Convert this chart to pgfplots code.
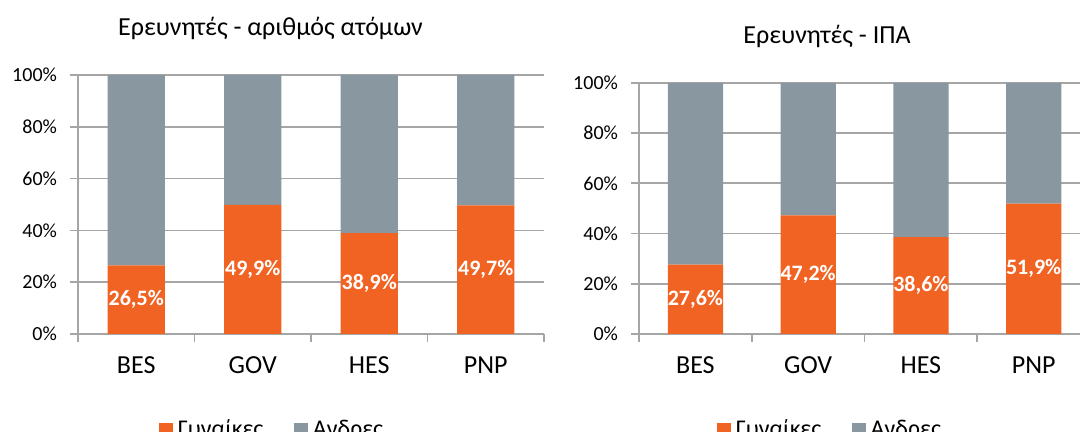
\documentclass[border=0pt]{standalone}
\usepackage{fontspec}
\setmainfont{Carlito}
\usepackage{pgfplots}
\pgfplotsset{compat=1.18}
\definecolor{fem}{RGB}{241,99,35}
\definecolor{male}{RGB}{137,151,160}
\definecolor{gridc}{RGB}{166,166,166}
\pgfplotsset{
  mystyle/.style={
    ybar stacked, scale only axis,
    bar width=0.49,
    xmin=-0.5, xmax=3.5, ymin=0, ymax=100,
    xtick={-0.5,0.5,1.5,2.5,3.5},
    x tick label as interval,
    xticklabels={BES,GOV,HES,PNP},
    xticklabel style={font=\fontsize{13}{15}\selectfont, yshift=-4pt},
    ytick={0,20,40,60,80,100},
    yticklabels={0\%,20\%,40\%,60\%,80\%,100\%},
    yticklabel style={font=\fontsize{10}{12}\selectfont, xshift=-3pt},
    ymajorgrids, grid style={gridc, line width=0.8pt},
    axis x line*=bottom, axis y line*=left,
    axis line style={gridc, line width=0.8pt},
    tick style={gridc, line width=0.8pt},
    tick align=outside, major tick length=4pt,
    legend columns=2,
    legend image code/.code={\fill[##1,draw=none] (0pt,-3.4pt) rectangle (6.8pt,3.4pt);},
    legend style={draw=none, fill=none, font=\fontsize{12}{14}\selectfont,
      /tikz/every even column/.append style={column sep=13pt},
      nodes={inner sep=2.5pt}},
  },
  femstyle/.style={fill=fem, draw=none,
    nodes near coords={\pgfmathprintnumber[fixed,fixed zerofill,precision=1,use comma,assume math mode=true]{\pgfplotspointmeta}\%},
    every node near coord/.append style={anchor=center, text=white,
      font=\bfseries\fontsize{11}{13}\selectfont}},
  malestyle/.style={fill=male, draw=none},
}
\begin{document}
\begin{tikzpicture}
\useasboundingbox (0,0) rectangle (540pt,216pt);
\begin{axis}[mystyle, at={(39pt,49pt)}, anchor=south west, width=233pt, height=129.5pt,
  legend style={at={(axis description cs:0.42,-0.37)}, anchor=center}]
\addplot[femstyle] coordinates {(0,26.5) (1,49.9) (2,38.9) (3,49.7)};
\addlegendentry{Γυναίκες}
\addplot[malestyle] coordinates {(0,73.5) (1,50.1) (2,61.1) (3,50.3)};
\addlegendentry{Ανδρες}
\end{axis}
\begin{axis}[mystyle, at={(319.5pt,49pt)}, anchor=south west, width=225.5pt, height=125.6pt,
  legend style={at={(axis description cs:0.427,-0.381)}, anchor=center}]
\addplot[femstyle] coordinates {(0,27.6) (1,47.2) (2,38.6) (3,51.9)};
\addlegendentry{Γυναίκες}
\addplot[malestyle] coordinates {(0,72.4) (1,52.8) (2,61.4) (3,48.1)};
\addlegendentry{Ανδρες}
\end{axis}
\node[anchor=base, font=\fontsize{13}{15}\selectfont] at (135.25pt,198pt) {Ερευνητές - αριθμός ατόμων};
\node[anchor=base, font=\fontsize{13}{15}\selectfont] at (413.5pt,194pt) {Ερευνητές - ΙΠΑ};
\end{tikzpicture}
\end{document}
